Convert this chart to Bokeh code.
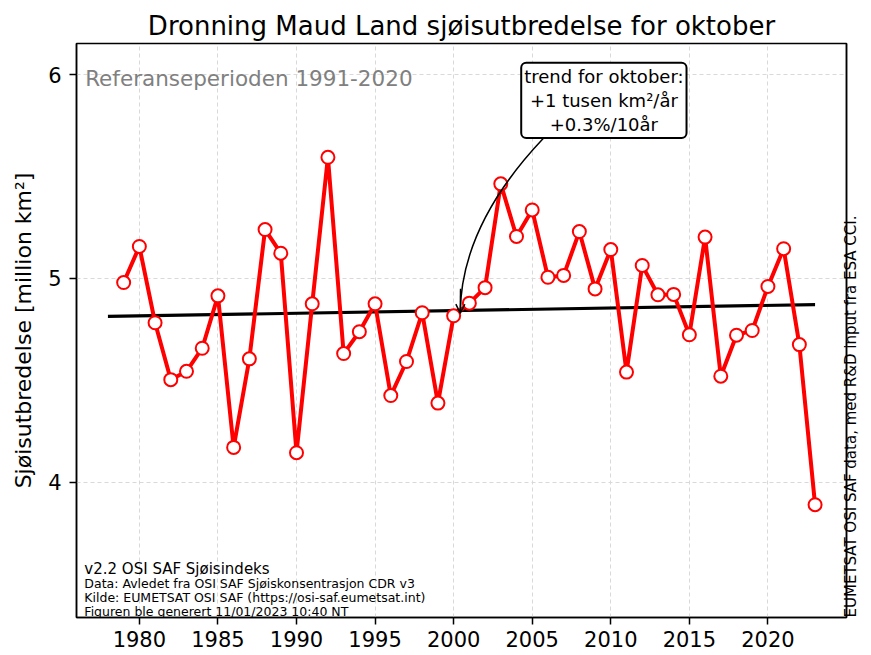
import math
from bokeh.plotting import figure
from bokeh.models import Range1d, Label, Arrow, OpenHead, FixedTicker, LinearAxis
from bokeh.embed import file_html
from bokeh.resources import INLINE

# ---- data ----
years = list(range(1979, 2024))
extent = [4.980, 5.157, 4.783, 4.504, 4.545, 4.658, 4.915, 4.172, 4.606, 5.240,
          5.124, 4.146, 4.876, 5.594, 4.632, 4.739, 4.876, 4.426, 4.593, 4.832,
          4.389, 4.817, 4.879, 4.955, 5.464, 5.206, 5.336, 5.006, 5.015, 5.230,
          4.949, 5.142, 4.541, 5.064, 4.920, 4.922, 4.724, 5.203, 4.521, 4.722,
          4.745, 4.961, 5.146, 4.676, 3.891]
trend_years = [1978, 2023]
trend_vals = [4.814, 4.872]
x_ticks = [1980, 1985, 1990, 1995, 2000, 2005, 2010, 2015, 2020]
y_ticks = [4, 5, 6]

title = "Dronning Maud Land sjøisutbredelse for oktober"
ylabel = "Sjøisutbredelse [million km²]"
ref_text = "Referanseperioden 1991-2020"
trend_text = "trend for oktober:\n+1 tusen km²/år\n+0.3%/10år"
side_text = "EUMETSAT OSI SAF data, med R&D input fra ESA CCI."
foot_main = "v2.2 OSI SAF Sjøisindeks"
foot_lines = ["Data: Avledet fra OSI SAF Sjøiskonsentrasjon CDR v3",
              "Kilde: EUMETSAT OSI SAF (https://osi-saf.eumetsat.int)",
              "Figuren ble generert 11/01/2023 10:40 NT"]

FONT = "DejaVu Sans"

p = figure(width=871, height=655, output_backend="svg", toolbar_location=None,
           x_range=Range1d(1976, 2025), y_range=Range1d(3.338, 6.152),
           min_border_left=76, min_border_right=24, min_border_top=43,
           min_border_bottom=38)

p.title.text = title
p.title.align = "center"
p.title.text_font = FONT
p.title.text_font_size = "26px"
p.title.text_font_style = "normal"
p.title.text_color = "black"
p.title.standoff = 6

p.outline_line_color = "black"
p.outline_line_width = 1.5
p.background_fill_color = "white"
p.border_fill_color = "white"

p.xaxis.ticker = FixedTicker(ticks=x_ticks)
p.yaxis.ticker = FixedTicker(ticks=y_ticks)
p.axis.minor_tick_line_color = None
p.axis.major_tick_in = 0
p.axis.major_tick_out = 7
p.axis.major_tick_line_width = 1.5
p.axis.axis_line_width = 1.5
p.axis.major_label_text_font = FONT
p.axis.major_label_text_font_size = "21px"
p.axis.major_label_text_color = "black"
p.xaxis.major_label_standoff = 6
p.yaxis.major_label_standoff = 8
p.yaxis.axis_label = ylabel
p.yaxis.axis_label_text_font = FONT
p.yaxis.axis_label_text_font_size = "22px"
p.yaxis.axis_label_text_font_style = "normal"
p.yaxis.axis_label_text_color = "black"
p.yaxis.axis_label_standoff = 9

# right-side credit as an unticked axis label
rax = LinearAxis(ticker=FixedTicker(ticks=[]), axis_label=side_text,
                 axis_label_text_font=FONT, axis_label_text_font_size="15px",
                 axis_label_text_font_style="normal", axis_label_text_color="black",
                 axis_label_standoff=4, axis_label_orientation=math.pi / 2,
                 axis_label_align="start",
                 axis_line_width=1.5, minor_tick_line_color=None,
                 major_tick_line_color=None)
p.add_layout(rax, "right")

p.grid.grid_line_color = "#d9d9d9"
p.grid.grid_line_dash = "4 3"
p.grid.grid_line_width = 1

# trend
p.line(trend_years, trend_vals, line_color="black", line_width=3.2)
# series
p.line(years, extent, line_color="red", line_width=4)
p.scatter(years, extent, size=13, fill_color="white", line_color="red", line_width=2)

# annotation arrow (quadratic curve + head)
arr_start = (2005.7, 5.686)
arr_ctrl = (2000.46, 5.26)
arr_end = (2000.42, 4.83)
p.quadratic(x0=[arr_start[0]], y0=[arr_start[1]], x1=[arr_end[0]], y1=[arr_end[1]],
            cx=[arr_ctrl[0]], cy=[arr_ctrl[1]], line_color="black", line_width=1.5)
p.add_layout(Arrow(end=OpenHead(size=9, line_width=1.5, line_color="black"),
                   x_start=2000.44, y_start=4.95, x_end=arr_end[0], y_end=arr_end[1],
                   line_width=1.5, line_color="black"))

p.add_layout(Label(x=2009.56, y=5.873, text=trend_text, text_align="center",
                   text_baseline="middle", text_font=FONT, text_font_size="18px",
                   text_color="black", text_line_height=1.15,
                   border_line_color="black", border_line_width=2,
                   background_fill_color="white", padding=3, border_radius=5))

p.add_layout(Label(x=1976.55, y=5.978, text=ref_text, text_font=FONT,
                   text_font_size="21.5px", text_color="#808080",
                   text_baseline="alphabetic"))

p.add_layout(Label(x=1976.5, y=3.578, text=foot_main, text_font=FONT,
                   text_font_size="15px", text_baseline="alphabetic",
                   text_color="black"))
foot_y = [3.505, 3.436, 3.365]
for t, yy in zip(foot_lines, foot_y):
    p.add_layout(Label(x=1976.5, y=yy, text=t, text_font=FONT,
                       text_font_size="12.5px", text_baseline="alphabetic",
                       text_color="black"))

open("out.html", "w").write(file_html(p, INLINE))
